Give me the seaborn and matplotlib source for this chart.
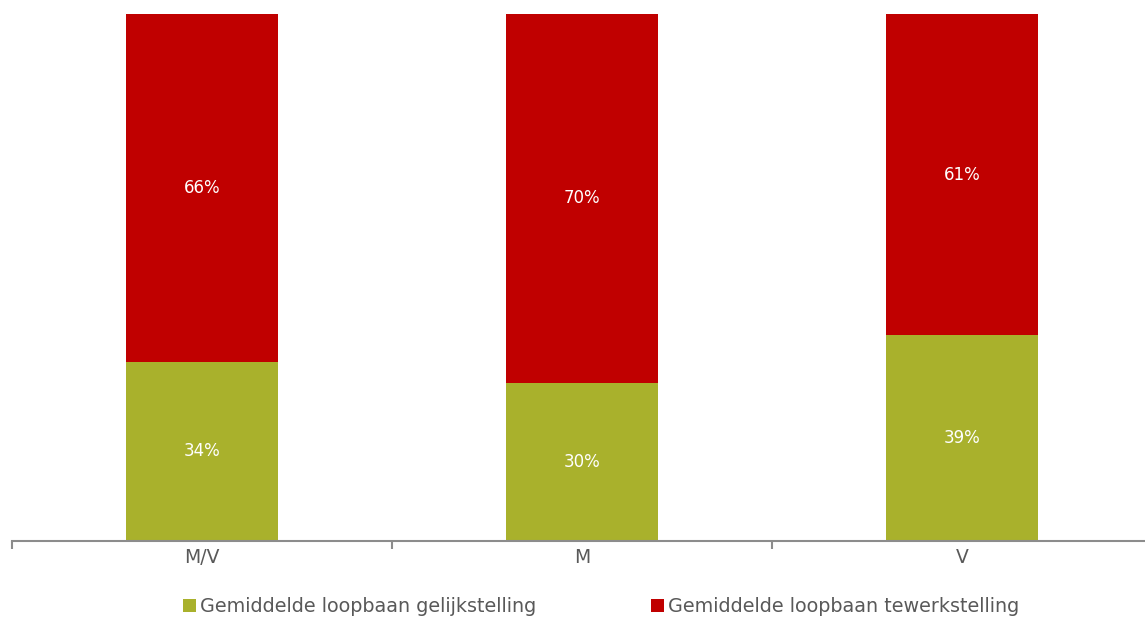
import matplotlib
matplotlib.use("Agg")
import matplotlib.pyplot as plt
import seaborn as sns
from matplotlib.patches import Patch

categories = ["M/V", "M", "V"]
gelijkstelling = [34, 30, 39]
tewerkstelling = [66, 70, 61]
series_names = ["Gemiddelde loopbaan gelijkstelling", "Gemiddelde loopbaan tewerkstelling"]

GREEN = "#A9B12C"
RED = "#C00000"
GREY_TEXT = "#595959"

sns.set_theme(style="white")
plt.rcParams["font.family"] = ["DejaVu Sans"]

fig = plt.figure(figsize=(11.45, 6.2), dpi=100)
ax = fig.add_axes([12 / 1145, 79 / 620, 1140 / 1145, 527 / 620])

totals = [g + t for g, t in zip(gelijkstelling, tewerkstelling)]
# full stack in red, lower segment in green drawn over it
sns.barplot(x=categories, y=totals, color=RED, width=0.4, saturation=1, linewidth=0, ax=ax)
sns.barplot(x=categories, y=gelijkstelling, color=GREEN, width=0.4, saturation=1, linewidth=0, ax=ax)

for i, (g, t) in enumerate(zip(gelijkstelling, tewerkstelling)):
    ax.text(i, g / 2, f"{g}%", ha="center", va="center", color="white", fontsize=12)
    ax.text(i, g + t / 2, f"{t}%", ha="center", va="center", color="white", fontsize=12)

ax.set_xlim(-0.5, len(categories) - 0.5)
ax.set_ylim(0, 100)
ax.set_yticks([])
ax.set_xlabel("")
ax.set_ylabel("")
for side in ["top", "right", "left"]:
    ax.spines[side].set_visible(False)
ax.spines["bottom"].set_color("#8C8C8C")
ax.spines["bottom"].set_linewidth(1.5)

ax.set_xticks(range(len(categories)))
ax.set_xticklabels(categories, color=GREY_TEXT, fontsize=13.5)
ax.tick_params(axis="x", which="major", length=0, pad=5)
ax.set_xticks([i - 0.5 for i in range(len(categories) + 1)], minor=True)
ax.tick_params(axis="x", which="minor", length=6, width=1.5, color="#8C8C8C", bottom=True)

handles = [Patch(facecolor=GREEN, linewidth=0), Patch(facecolor=RED, linewidth=0)]
leg = fig.legend(handles, series_names, loc="center", bbox_to_anchor=(601 / 1145, 1 - 607 / 620),
                 ncol=2, frameon=False, fontsize=13.8, handlelength=0.68, handleheight=0.68,
                 handletextpad=0.2, columnspacing=6.0)
for txt in leg.get_texts():
    txt.set_color(GREY_TEXT)

fig.savefig("out.png", dpi=100)
